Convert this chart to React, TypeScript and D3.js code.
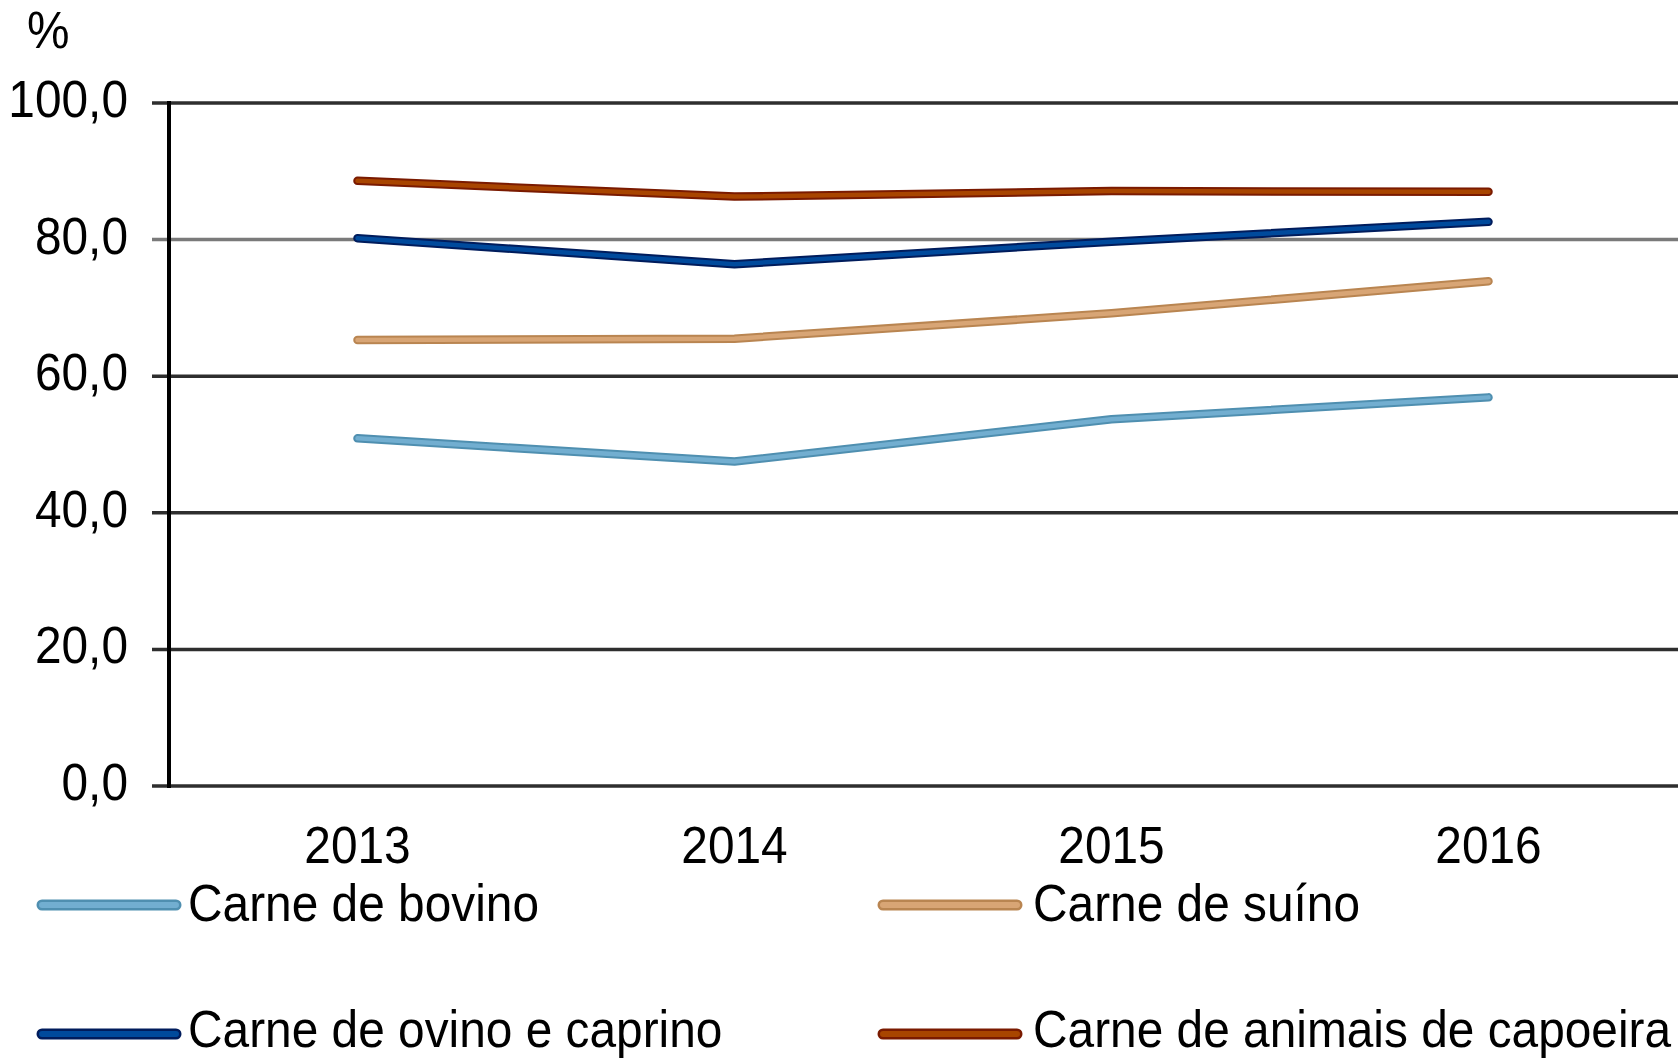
import * as d3 from "d3";

const years = ["2013", "2014", "2015", "2016"];
const bovino = [50.9, 47.5, 53.7, 56.9];
const suino = [65.3, 65.5, 69.2, 73.9];
const ovino = [80.2, 76.4, 79.7, 82.6];
const capoeira = [88.6, 86.3, 87.1, 87.0];
const yTicks = [0, 20, 40, 60, 80, 100];

const series = [
  { name: "Carne de bovino", values: bovino, color: "#72aed0", edge: "#4f8fb0" },
  { name: "Carne de suíno", values: suino, color: "#d8a575", edge: "#b98551" },
  { name: "Carne de ovino e caprino", values: ovino, color: "#004a9c", edge: "#001c5c" },
  { name: "Carne de animais de capoeira", values: capoeira, color: "#a84500", edge: "#7a1a00" },
];

const width = 1678;
const height = 1059;
const left = 169;
const right = 1677;
const top = 103;
const bottom = 786;
const font = "'Liberation Sans', Arial, sans-serif";
const fs = 52;
const sx = 0.92;

export default function App() {
  const x = d3.scaleBand<string>().domain(years).range([left, right]);
  const cx = (d: string) => (x(d) ?? 0) + x.bandwidth() / 2;
  const y = d3.scaleLinear().domain([0, 100]).range([bottom, top]);
  const line = d3
    .line<number>()
    .x((_, i) => cx(years[i]))
    .y(d => y(d));

  // legend slots: swatch start, text start, swatch y, text baseline
  const legendPos = [
    { lx: 37, tx: 188, ly: 905, ty: 921 },
    { lx: 878, tx: 1033, ly: 905, ty: 921 },
    { lx: 37, tx: 188, ly: 1034, ty: 1047 },
    { lx: 878, tx: 1033, ly: 1034, ty: 1047 },
  ];

  return (
    <svg
      width={width}
      height={height}
      style={{ position: "absolute", left: 0, top: 0, background: "#fff" }}
      fontFamily={font}
      fontSize={fs}
    >
      <text transform={`translate(27,48) scale(${sx},1)`} fill="#000">%</text>

      {/* grid lines with left tick stubs */}
      {yTicks.map(t => (
        <g key={t}>
          <line
            x1={152}
            x2={width}
            y1={y(t)}
            y2={y(t)}
            stroke={t === 80 ? "#7a7a7a" : "#2e2e2e"}
            strokeWidth={3.5}
          />
          <text
            transform={`translate(128,${y(t) + 14}) scale(${sx},1)`}
            textAnchor="end"
            fill="#000"
          >
            {d3.format(".1f")(t).replace(".", ",")}
          </text>
        </g>
      ))}

      <line x1={left} x2={left} y1={top - 2} y2={bottom + 2} stroke="#000" strokeWidth={4} />

      {years.map(d => (
        <text
          key={d}
          transform={`translate(${cx(d)},863) scale(${sx},1)`}
          textAnchor="middle"
          fill="#000"
        >
          {d}
        </text>
      ))}

      {series.map(s => (
        <g key={s.name}>
          <path d={line(s.values) ?? undefined} fill="none" stroke={s.edge} strokeWidth={8.5} strokeLinecap="round" strokeLinejoin="round" />
          <path d={line(s.values) ?? undefined} fill="none" stroke={s.color} strokeWidth={4.5} strokeLinecap="round" strokeLinejoin="round" />
        </g>
      ))}

      {series.map((s, i) => {
        const p = legendPos[i];
        return (
          <g key={s.name}>
            <line x1={p.lx + 5} x2={p.lx + 139} y1={p.ly} y2={p.ly} stroke={s.edge} strokeWidth={11} strokeLinecap="round" />
            <line x1={p.lx + 5} x2={p.lx + 139} y1={p.ly} y2={p.ly} stroke={s.color} strokeWidth={6} strokeLinecap="round" />
            <text transform={`translate(${p.tx},${p.ty}) scale(${sx},1)`} fill="#000">
              {s.name}
            </text>
          </g>
        );
      })}
    </svg>
  );
}
